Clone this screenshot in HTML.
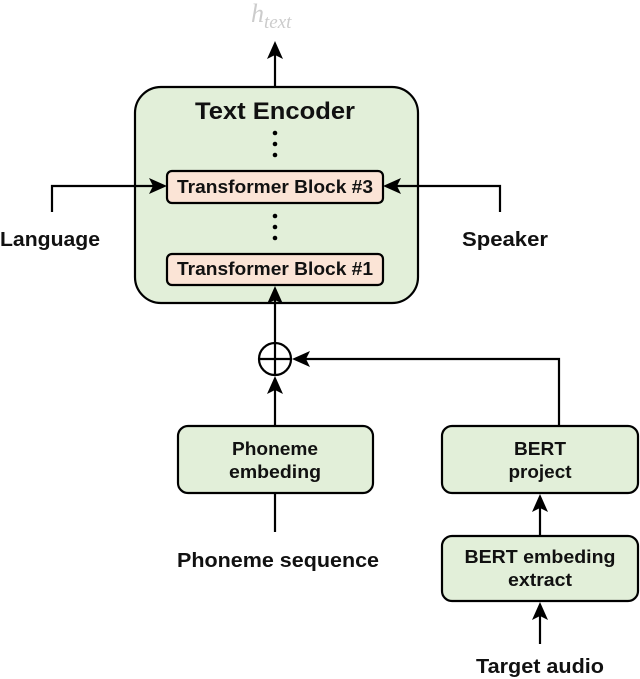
<!DOCTYPE html>
<html><head><meta charset="utf-8"><style>
body{margin:0;background:#fff;}
svg{display:block;font-family:"Liberation Sans",Arial,sans-serif;}
</style></head><body>
<svg width="640" height="679" viewBox="0 0 640 679" xmlns="http://www.w3.org/2000/svg">
<g stroke="#000" stroke-width="2.2" fill="none">
<rect x="135" y="87" width="283" height="216" rx="26" fill="#e2efd9"/>
<rect x="167" y="171" width="216" height="32" rx="5" fill="#fbe4d6"/>
<rect x="167" y="254" width="216" height="31" rx="5" fill="#fbe4d6"/>
<line x1="275" y1="87" x2="275" y2="50"/>
<polyline points="52,212 52,186 160,186"/>
<polyline points="500,212 500,186 390,186"/>
<circle cx="275" cy="359" r="16" fill="#fff"/>
<line x1="259" y1="359" x2="291" y2="359"/>
<line x1="275" y1="343" x2="275" y2="375"/>
<line x1="275" y1="343" x2="275" y2="295"/>
<line x1="275" y1="426" x2="275" y2="384"/>
<polyline points="559,426 559,359 300,359"/>
<rect x="178" y="426" width="195" height="67" rx="10" fill="#e2efd9"/>
<rect x="442" y="426" width="196" height="67" rx="10" fill="#e2efd9"/>
<rect x="442" y="536" width="196" height="65" rx="10" fill="#e2efd9"/>
<line x1="275" y1="493" x2="275" y2="532"/>
<line x1="540" y1="536" x2="540" y2="503"/>
<line x1="540" y1="644" x2="540" y2="611"/>
</g>
<g fill="#000">
<polygon points="275,41 267,59 275,55 283,59"/>
<polygon points="167,186 149,178 153,186 149,194"/>
<polygon points="383,186 401,178 397,186 401,194"/>
<polygon points="275,286 267,304 275,300 283,304"/>
<polygon points="275,376 267,394 275,390 283,394"/>
<polygon points="292,359 310,351 306,359 310,367"/>
<polygon points="540,494 532,512 540,508 548,512"/>
<polygon points="540,602 532,620 540,616 548,620"/>
<circle cx="275" cy="133" r="2.3"/><circle cx="275" cy="144" r="2.3"/><circle cx="275" cy="155" r="2.3"/>
<circle cx="275" cy="216" r="2.3"/><circle cx="275" cy="227" r="2.3"/><circle cx="275" cy="238" r="2.3"/>
</g>
<g font-weight="bold" text-anchor="middle" fill="#111">
<text x="275" y="119" font-size="24" textLength="160" lengthAdjust="spacingAndGlyphs">Text Encoder</text>
<text x="275" y="193" font-size="18" textLength="196" lengthAdjust="spacingAndGlyphs">Transformer Block #3</text>
<text x="275" y="275" font-size="18" textLength="196" lengthAdjust="spacingAndGlyphs">Transformer Block #1</text>
<text x="50" y="246" font-size="20" textLength="100" lengthAdjust="spacingAndGlyphs">Language</text>
<text x="505" y="246" font-size="20" textLength="86" lengthAdjust="spacingAndGlyphs">Speaker</text>
<text x="275" y="455" font-size="18" textLength="86" lengthAdjust="spacingAndGlyphs">Phoneme</text>
<text x="275" y="478" font-size="18" textLength="92" lengthAdjust="spacingAndGlyphs">embeding</text>
<text x="540" y="455" font-size="18" textLength="52" lengthAdjust="spacingAndGlyphs">BERT</text>
<text x="540" y="478" font-size="18" textLength="63" lengthAdjust="spacingAndGlyphs">project</text>
<text x="540" y="563" font-size="18" textLength="151" lengthAdjust="spacingAndGlyphs">BERT embeding</text>
<text x="540" y="586" font-size="18" textLength="64" lengthAdjust="spacingAndGlyphs">extract</text>
<text x="278" y="567" font-size="20" textLength="202" lengthAdjust="spacingAndGlyphs">Phoneme sequence</text>
<text x="540" y="673" font-size="20" textLength="128" lengthAdjust="spacingAndGlyphs">Target audio</text>
</g>
<text x="251" y="22" font-size="26" font-style="italic" fill="#ccc" font-family="Liberation Serif,serif">h</text>
<text x="264" y="28" font-size="19" font-style="italic" fill="#ccc" font-family="Liberation Serif,serif">text</text>
</svg>
</body></html>
